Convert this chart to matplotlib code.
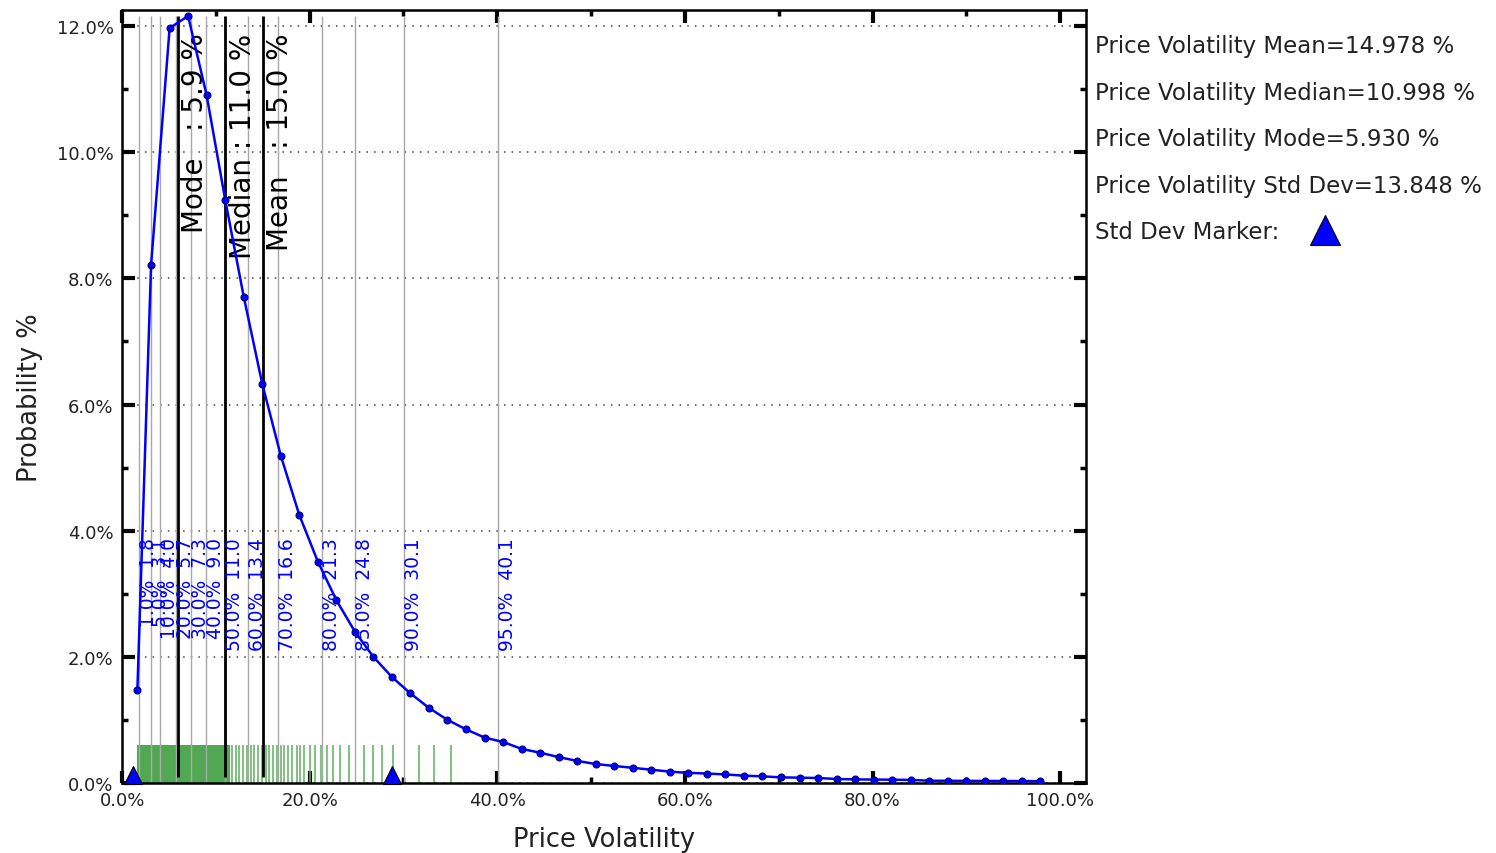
import matplotlib
matplotlib.use("Agg")
import matplotlib.pyplot as plt
from matplotlib.ticker import PercentFormatter, MultipleLocator

# histogram of simulated price volatility (x in %, probability in %)
bin_x = [1.63, 3.09, 5.07, 7.04, 9.02, 10.99, 12.97, 14.94, 16.92, 18.89,
         20.87, 22.84, 24.82, 26.79, 28.77, 30.74, 32.72, 34.69, 36.67, 38.64,
         40.62, 42.59, 44.57, 46.54, 48.52, 50.49, 52.47, 54.44, 56.42, 58.39,
         60.37, 62.34, 64.32, 66.29, 68.27, 70.24, 72.22, 74.19, 76.17, 78.14,
         80.12, 82.09, 84.07, 86.04, 88.02, 89.99, 91.97, 93.94, 95.92, 97.89]
prob = [1.47, 8.21, 11.97, 12.16, 10.90, 9.25, 7.71, 6.33, 5.19, 4.25,
        3.51, 2.90, 2.40, 2.00, 1.68, 1.42, 1.19, 1.00, 0.85, 0.72,
        0.65, 0.54, 0.48, 0.41, 0.35, 0.30, 0.27, 0.24, 0.21, 0.18,
        0.16, 0.15, 0.135, 0.116, 0.105, 0.089, 0.084, 0.079, 0.063, 0.057,
        0.054, 0.052, 0.048, 0.036, 0.035, 0.034, 0.032, 0.031, 0.030, 0.029]

# percentiles
pct_levels = [1.0, 5.0, 10.0, 20.0, 30.0, 40.0, 50.0, 60.0, 70.0, 80.0, 85.0, 90.0, 95.0]
pct_values = [1.8, 3.1, 4.0, 5.7, 7.3, 9.0, 11.0, 13.4, 16.6, 21.3, 24.8, 30.1, 40.1]

# sample rug (%)
rug_dense = [1.75, 1.85, 1.95, 2.05, 2.15, 2.25, 2.35, 2.45, 2.55, 2.65, 2.75,
             2.85, 2.95, 3.05, 3.15, 3.25, 3.35, 3.45, 3.55, 3.65, 3.75, 3.85,
             3.95, 4.05, 4.15, 4.25, 4.35, 4.45, 4.55, 4.65, 4.75, 4.85, 4.95,
             5.05, 5.15, 5.25, 5.35, 5.45, 5.55, 5.65, 5.75, 5.85, 5.95, 6.05,
             6.15, 6.25, 6.35, 6.45, 6.55, 6.65, 6.75, 6.85, 6.95, 7.05, 7.15,
             7.25, 7.35, 7.45, 7.55, 7.65, 7.75, 7.85, 7.95, 8.05, 8.15, 8.25,
             8.35, 8.45, 8.55, 8.65, 8.75, 8.85, 8.95, 9.05, 9.15, 9.25, 9.35,
             9.45, 9.55, 9.65, 9.75, 9.85, 9.95, 10.05, 10.15, 10.25, 10.35,
             10.45, 10.55, 10.65, 10.75, 10.85, 10.95, 11.05, 11.15, 11.25,
             11.35, 11.45]
rug_sparse = [11.75, 12.1, 12.5, 12.9, 13.3, 13.7, 14.1, 14.5, 14.9, 15.3, 15.7,
              16.1, 16.5, 16.9, 17.3, 17.7, 18.1, 18.6, 19.0, 19.4, 20.0, 20.6,
              21.2, 21.8, 22.5, 23.2, 24.2, 25.8, 26.7, 27.7, 28.9, 31.7, 33.3,
              35.1]

mean = 14.978
median = 10.998
mode = 5.930
std = 13.848

pc = lambda v: [a / 100.0 for a in v]

fig = plt.figure(figsize=(14.96, 8.54), dpi=100)
ax = fig.add_axes([0.0816, 0.082, 0.6444, 0.905])

top = max(prob) / 100.0

ax.vlines(pc(rug_dense), 0, 0.006, colors="#52a852", lw=1.5, zorder=2)
ax.vlines(pc(rug_sparse), 0, 0.006, colors="#5cb05c", lw=1.1, zorder=2)
ax.vlines(pc(pct_values), 0, top, colors="#a8a8a8", lw=1, zorder=2.5)
ax.vlines(pc([mode, median, mean]), 0.001, top, colors="k", lw=2, zorder=3)

ax.plot(pc(bin_x), pc(prob), "-o", color="blue", lw=1.8, ms=5,
        mec="#000070", mew=0.8, zorder=4)

for lv, v in zip(pct_levels, pct_values):
    ax.text(v / 100.0, 0.039, "%.1f%%  %.1f" % (lv, v), rotation=90,
            ha="left", va="top", color="blue", fontsize=13.5, zorder=5)

ax.text(mode / 100 + 0.004, 0.119, "Mode   : %.1f %%" % mode, rotation=90,
        ha="left", va="top", fontsize=20)
ax.text(median / 100 + 0.004, 0.119, "Median : %.1f %%" % median, rotation=90,
        ha="left", va="top", fontsize=20)
ax.text(mean / 100 + 0.004, 0.119, "Mean   : %.1f %%" % mean, rotation=90,
        ha="left", va="top", fontsize=20)

ax.plot(pc([mean - std, mean + std]), [0.0012, 0.0012], "^", color="blue",
        mec="k", mew=0.8, ms=13, ls="none", zorder=6, clip_on=False)

ax.set_xlim(0, 1.0277)
ax.set_ylim(0, 0.12254)
ax.xaxis.set_major_locator(MultipleLocator(0.2))
ax.xaxis.set_minor_locator(MultipleLocator(0.1))
ax.yaxis.set_major_locator(MultipleLocator(0.02))
ax.yaxis.set_minor_locator(MultipleLocator(0.01))
ax.xaxis.set_major_formatter(PercentFormatter(xmax=1, decimals=1))
ax.yaxis.set_major_formatter(PercentFormatter(xmax=1, decimals=1))
ax.tick_params(which="both", direction="in", top=True, right=True, colors="k",
               labelsize=13, labelcolor="#222222")
ax.tick_params(which="major", length=9, width=3, pad=6)
ax.tick_params(which="minor", length=4.5, width=2.5)
ax.grid(axis="y", which="major", ls=(0, (1, 4)), color="#444444", lw=1.1, zorder=0)
for s in ax.spines.values():
    s.set_linewidth(1.8)

ax.set_xlabel("Price Volatility", fontsize=18.5, color="#222222", labelpad=12)
ax.set_ylabel("Probability %", fontsize=18.5, color="#222222", labelpad=10)

info = ["Price Volatility Mean=%.3f %%" % mean,
        "Price Volatility Median=%.3f %%" % median,
        "Price Volatility Mode=%.3f %%" % mode,
        "Price Volatility Std Dev=%.3f %%" % std,
        "Std Dev Marker:"]
for i, t in enumerate(info):
    fig.text(0.732, 0.945 - i * 0.0543, t, fontsize=16.5, va="center",
             color="#222222")
ax.plot([0.886], [0.730], "^", color="blue", mec="k", mew=0.8, ms=21,
        transform=fig.transFigure, clip_on=False)

fig.savefig("out.png", dpi=100)
